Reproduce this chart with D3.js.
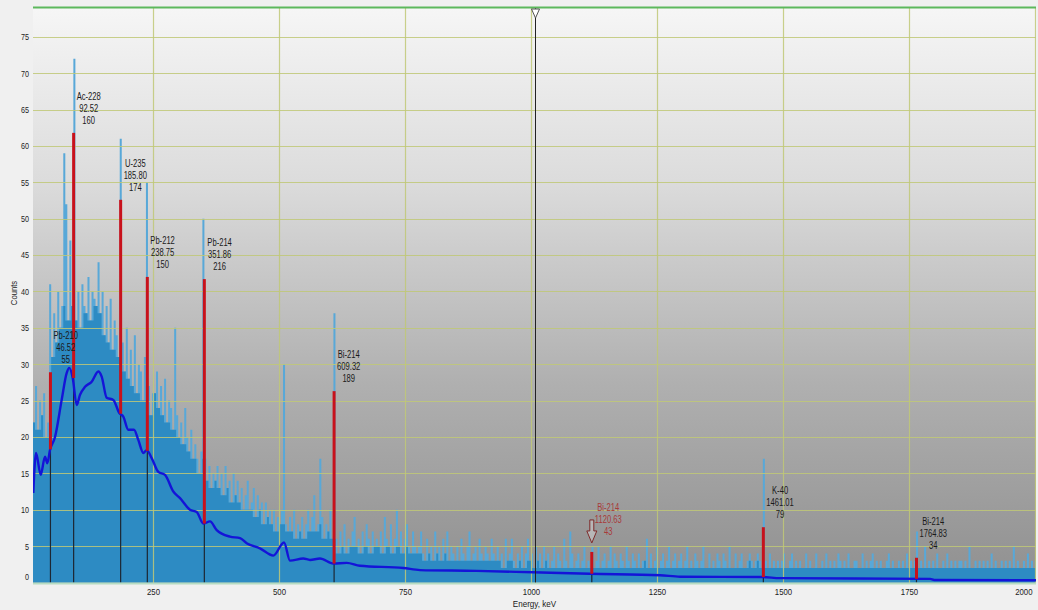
<!DOCTYPE html>
<html>
<head>
<meta charset="utf-8">
<script src="https://cdn.jsdelivr.net/npm/d3@7"></script>
<style>
  html, body { margin: 0; padding: 0; background: #f0f0f0; }
  svg { display: block; }
  text { font-family: "Liberation Sans", Arial, sans-serif; fill: #1a1a1a; }
</style>
</head>
<body>
<svg id="chart" width="1038" height="610"></svg>
<script>
// Gamma spectrum: counts per 4 keV bin, first bin starts at 12 keV (one row = 40 keV)
const binStart = 12;
const binWidth = 4;
const counts = [
  22, 27, 21, 25, 23, 26, 20, 22, 41, 31,   // 12 keV
  37, 33, 40, 35, 38, 59, 52, 36, 47, 38,   // 52
  72, 36, 40, 35, 41, 38, 37, 42, 36, 40,   // 92
  39, 38, 44, 37, 40, 34, 38, 33, 39, 32,   // 132
  36, 34, 31, 61, 33, 29, 35, 28, 32, 27,   // 172
  34, 26, 30, 29, 25, 31, 55, 27, 23, 26,   // 212
  26, 29, 24, 27, 23, 28, 22, 25, 24, 21,   // 252
  35, 23, 20, 22, 19, 24, 20, 18, 21, 17,   // 292
  19, 17, 15, 18, 50, 17, 14, 16, 13, 15,   // 332
  14, 16, 13, 15, 12, 16, 13, 14, 11, 15,   // 372
  12, 14, 11, 13, 10, 12, 14, 10, 11, 13,   // 412
  9, 12, 10, 11, 8, 11, 9, 10, 8, 10,       // 452
  7, 9, 8, 10, 30, 8, 7, 9, 7, 10,          // 492
  6, 8, 7, 9, 6, 8, 10, 7, 9, 12,           // 532
  7, 8, 17, 9, 6, 8, 7, 10, 6, 37,          // 572
  6, 4, 7, 5, 8, 4, 6, 5, 7, 9,             // 612
  5, 6, 4, 7, 5, 8, 6, 4, 7, 5,             // 652
  6, 5, 7, 4, 9, 6, 5, 8, 4, 6,             // 692
  10, 5, 7, 4, 6, 8, 5, 4, 7, 5,            // 732
  4, 5, 7, 4, 3, 6, 4, 5, 3, 7,             // 772
  4, 5, 3, 6, 4, 7, 3, 5, 4, 3,             // 812
  5, 3, 6, 4, 3, 5, 7, 3, 4, 5,             // 852
  3, 6, 4, 3, 5, 4, 3, 6, 4, 3,             // 892
  5, 3, 4, 2, 6, 3, 4, 6, 3, 2,             // 932
  4, 3, 5, 2, 4, 6, 3, 4, 2, 5,             // 972
  3, 4, 2, 5, 3, 4, 2, 3, 5, 2,             // 1012
  4, 3, 2, 6, 3, 2, 7, 4, 2, 3,             // 1052
  4, 2, 3, 5, 2, 3, 2, 5, 2, 3,             // 1092
  5, 2, 3, 4, 2, 3, 5, 2, 4, 3,             // 1132
  2, 4, 3, 2, 5, 3, 2, 4, 3, 2,             // 1172
  4, 2, 3, 3, 6, 2, 4, 2, 3, 5,             // 1212
  2, 3, 4, 2, 3, 5, 2, 3, 4, 2,             // 1252
  3, 4, 2, 3, 5, 2, 3, 2, 4, 3,             // 1292
  2, 3, 5, 2, 2, 4, 2, 3, 2, 4,             // 1332
  3, 2, 4, 3, 2, 5, 2, 2, 4, 2,             // 1372
  3, 4, 2, 2, 3, 4, 3, 2, 3, 4,             // 1412
  3, 2, 17, 3, 2, 4, 2, 3, 2, 3,            // 1452
  2, 3, 4, 2, 2, 3, 4, 2, 3, 2,             // 1492
  3, 2, 2, 4, 2, 3, 2, 2, 4, 2,             // 1532
  2, 3, 2, 4, 2, 3, 2, 3, 2, 4,             // 1572
  3, 2, 3, 2, 4, 2, 2, 3, 3, 2,             // 1612
  2, 4, 2, 3, 2, 3, 4, 2, 3, 2,             // 1652
  3, 2, 2, 3, 4, 2, 3, 2, 2, 3,             // 1692
  2, 3, 2, 4, 2, 3, 2, 3, 7, 2,             // 1732
  3, 2, 5, 2, 3, 2, 3, 2, 4, 2,             // 1772
  2, 3, 2, 4, 2, 3, 2, 3, 2, 3,             // 1812
  3, 2, 3, 2, 5, 2, 2, 3, 2, 3,             // 1852
  2, 3, 2, 3, 2, 4, 2, 3, 2, 2,             // 1892
  3, 2, 3, 2, 3, 2, 5, 2, 3, 2,             // 1932
  2, 3, 2, 4, 2, 3, 2, 3                    // 1972
];

// Smoothed continuum (background) under the spectrum
const continuumEnergy = [12.5, 17.9, 27.2, 35.7, 40.3, 45.6, 55.6, 68.8, 78.8, 83.9, 90.7, 98.6, 105.2, 115.1, 128.4,
  141.5, 148.2, 158.1, 171.2, 183.1, 191.1, 201, 212.3, 220.8, 230.8, 237.5, 247.4, 260.5, 273.8, 290.3, 303.6,
  323.4, 336.7, 349.8, 363.1, 376.4, 402.8, 422.6, 435.9, 462.3, 488.7, 510, 521.8, 548.2, 561.5, 581.3, 607.7,
  634.3, 660.7, 746.6, 779.8, 892.3, 1004, 1117, 1256, 1296, 1460, 1494, 1792, 1800, 2002];
const continuumCounts = [12.3, 17.8, 14.8, 17.3, 16.4, 18.2, 20, 25.1, 28.8, 29.5, 28.1, 24.4, 25.8, 26.9, 27.6,
  29.0, 28.3, 25.4, 25.1, 23.3, 22.8, 21, 21, 19.6, 17.8, 18.2, 17.1, 15.2, 14.8, 12.5, 11.6,
  10, 9.7, 8.1, 8.4, 7.2, 6.3, 6.1, 5.4, 4.7, 3.7, 5.5, 3.0, 3.3, 3.1, 3.3, 2.6,
  2.7, 2.3, 2.0, 1.7, 1.6, 1.4, 1.2, 1.0, 0.8, 0.75, 0.6, 0.5, 0.35, 0.3];

// Identified peaks
const peakNames    = ["Pb-210", "Ac-228", "U-235", "Pb-212", "Pb-214", "Bi-214", "Bi-214", "K-40", "Bi-214"];
const peakEnergies = [46.52, 92.52, 185.80, 238.75, 351.86, 609.32, 1120.63, 1461.01, 1764.83];
const peakAreas    = [55, 160, 174, 150, 216, 189, 43, 79, 34];
const peakTops     = [28.9, 61.8, 52.6, 42.0, 41.7, 26.3, 4.2, 7.6, 3.4];
const peakBases    = [18.3, 28.1, 23.2, 18.1, 8.1, 2.6, 1.2, 0.75, 0.5];
const peakFlagged  = [false, false, false, false, false, false, true, false, false];

const cursorEnergy = 1008;
const xTicks = [250, 500, 750, 1000, 1250, 1500, 1750, 2000];
const yTicks = [0, 5, 10, 15, 20, 25, 30, 35, 40, 45, 50, 55, 60, 65, 70, 75];

const svg = d3.select("#chart");
const plot = { left: 33, top: 7, right: 1036, bottom: 583 };

const x = d3.scaleLinear().domain([0, 2000]).range([27, 1035]);
const y = d3.scaleLinear().domain([0, 79.1]).range([582.5, 7]);

// squeeze text horizontally to a narrow face
function condense(sel, f) {
  sel.each(function () {
    const w = this.getComputedTextLength();
    d3.select(this).attr("textLength", w * f).attr("lengthAdjust", "spacingAndGlyphs");
  });
}

const defs = svg.append("defs");
const grad = defs.append("linearGradient").attr("id", "bg").attr("x1", 0).attr("y1", 0).attr("x2", 0).attr("y2", 1);
grad.append("stop").attr("offset", "0%").attr("stop-color", "#f6f6f6");
grad.append("stop").attr("offset", "30%").attr("stop-color", "#dcdcdc");
grad.append("stop").attr("offset", "65%").attr("stop-color", "#b0b0b0");
grad.append("stop").attr("offset", "100%").attr("stop-color", "#909090");
defs.append("clipPath").attr("id", "clip").append("rect")
  .attr("x", plot.left).attr("y", plot.top)
  .attr("width", plot.right - plot.left).attr("height", plot.bottom - plot.top);

svg.append("rect")
  .attr("x", plot.left).attr("y", plot.top)
  .attr("width", plot.right - plot.left).attr("height", plot.bottom - plot.top)
  .attr("fill", "url(#bg)");

const inner = svg.append("g").attr("clip-path", "url(#clip)");

// spectrum: full channel heights in light blue, the part shared with neighbours in deeper blue
const steps = counts.map((v, i) => [binStart + i * binWidth, v]);
steps.push([binStart + counts.length * binWidth, counts[counts.length - 1]]);
const shared = counts.map((v, i) => Math.min(v, i > 0 ? counts[i - 1] : v, i < counts.length - 1 ? counts[i + 1] : v));
const sharedSteps = shared.map((v, i) => [binStart + i * binWidth, v]);
sharedSteps.push([binStart + shared.length * binWidth, shared[shared.length - 1]]);

const stepArea = d3.area().x(d => x(d[0])).y0(y(0)).y1(d => y(d[1])).curve(d3.curveStepAfter);
inner.append("path").datum(steps).attr("d", stepArea).attr("fill", "#58a8d8");
inner.append("path").datum(sharedSteps).attr("d", stepArea).attr("fill", "#2d8bc3");

// grid
const grid = inner.append("g").attr("stroke", "#bfc877").attr("stroke-opacity", 0.85).attr("stroke-width", 1.2);
grid.selectAll("line.h").data(yTicks.filter(v => v > 0)).join("line")
  .attr("x1", plot.left).attr("x2", plot.right)
  .attr("y1", d => Math.round(y(d)) + 0.5).attr("y2", d => Math.round(y(d)) + 0.5);
grid.selectAll("line.v").data(xTicks).join("line")
  .attr("y1", plot.top).attr("y2", plot.bottom)
  .attr("x1", d => Math.round(x(d)) + 0.5).attr("x2", d => Math.round(x(d)) + 0.5);

// peak markers: dark stem up to the continuum, red net part above it
const peaks = peakEnergies.map((e, i) => ({
  name: peakNames[i], energy: e, area: peakAreas[i],
  top: peakTops[i], base: peakBases[i], flagged: peakFlagged[i]
}));
inner.append("g").selectAll("line").data(peaks).join("line")
  .attr("x1", d => x(d.energy)).attr("x2", d => x(d.energy))
  .attr("y1", y(0)).attr("y2", d => y(d.base))
  .attr("stroke", "#1d2733").attr("stroke-width", 1.2);

// continuum
const contPts = continuumEnergy.map((e, i) => [e, continuumCounts[i]]);
inner.append("path")
  .datum(contPts)
  .attr("d", d3.line().x(d => x(d[0])).y(d => y(d[1])).curve(d3.curveMonotoneX))
  .attr("fill", "none").attr("stroke", "#1414d8").attr("stroke-width", 2.4)
  .attr("stroke-linejoin", "round");

inner.append("g").selectAll("line").data(peaks).join("line")
  .attr("x1", d => x(d.energy)).attr("x2", d => x(d.energy))
  .attr("y1", d => y(d.base)).attr("y2", d => y(d.top))
  .attr("stroke", "#c8111b").attr("stroke-width", 3);

// cursor
const cx = Math.round(x(cursorEnergy)) + 0.5;
svg.append("line").attr("x1", cx).attr("x2", cx).attr("y1", plot.top).attr("y2", plot.bottom)
  .attr("stroke", "#222").attr("stroke-width", 1);

// plot borders
svg.append("line").attr("x1", plot.left).attr("x2", plot.right).attr("y1", plot.top + 0.5).attr("y2", plot.top + 0.5)
  .attr("stroke", "#5cb85c").attr("stroke-width", 2);
svg.append("line").attr("x1", plot.left).attr("x2", plot.right).attr("y1", plot.bottom + 0.5).attr("y2", plot.bottom + 0.5)
  .attr("stroke", "#b6dcc2").attr("stroke-width", 2);

svg.append("path")
  .attr("d", `M${cx - 4},${plot.top + 2} L${cx + 4},${plot.top + 2} L${cx},${plot.top + 11} Z`)
  .attr("fill", "#ffffff").attr("stroke", "#555").attr("stroke-width", 1);

// flag arrow above a flagged peak
peaks.filter(p => p.flagged).forEach(p => {
  const px = x(p.energy), t = y(p.top);
  svg.append("path")
    .attr("d", `M${px - 2},${t - 32} L${px + 2},${t - 32} L${px + 2},${t - 21} L${px + 5},${t - 21} L${px},${t - 9} L${px - 5},${t - 21} L${px - 2},${t - 21} Z`)
    .attr("fill", "rgba(255,255,255,0.3)").attr("stroke", "#7e2a2a").attr("stroke-width", 1);
});

// peak labels
const labelG = svg.append("g").attr("font-size", "10px");
peaks.forEach(p => {
  const lines = [p.name, p.energy.toFixed(2), String(p.area)];
  const last = p.flagged ? y(p.top) - 17 : y(p.top) - 9;
  const g = labelG.append("g");
  const texts = lines.map((s, k) => g.append("text")
    .attr("y", last - (2 - k) * 12)
    .attr("text-anchor", "middle")
    .style("fill", p.flagged ? "#a83a3a" : "#1a1a1a")
    .text(s));
  texts.forEach(t => condense(t, 0.76));
  const w = d3.max(texts, t => +t.attr("textLength"));
  texts.forEach(t => t.attr("x", x(p.energy) + 3 + w / 2));
});

// axes
const xAxis = svg.append("g").attr("transform", `translate(0,${plot.bottom})`)
  .call(d3.axisBottom(x).tickValues(xTicks).tickSize(0).tickPadding(5).tickFormat(d3.format("d")));
xAxis.select(".domain").remove();
xAxis.selectAll("text").attr("font-size", "9.5px").attr("font-family", null).style("fill", "#222");
xAxis.selectAll(".tick").filter(d => d === 2000).select("text").attr("text-anchor", "end").attr("x", 1032 - x(2000));
condense(xAxis.selectAll("text"), 0.82);

const yAxis = svg.append("g").attr("transform", "translate(29,0)")
  .call(d3.axisLeft(y).tickValues(yTicks).tickSize(0).tickPadding(0));
yAxis.select(".domain").remove();
yAxis.selectAll("text").attr("font-size", "9px").attr("font-family", null).style("fill", "#222")
  .attr("dy", d => d === 0 ? "-0.3em" : "0.32em");
condense(yAxis.selectAll("text"), 0.8);

const xTitle = svg.append("text").attr("x", (plot.left + plot.right) / 2).attr("y", 607)
  .attr("text-anchor", "middle").attr("font-size", "9.5px").text("Energy, keV");
condense(xTitle, 0.85);
const yTitle = svg.append("text").attr("transform", "translate(17,293) rotate(-90)")
  .attr("text-anchor", "middle").attr("font-size", "9px").text("Counts");
condense(yTitle, 0.85);
</script>
</body>
</html>
